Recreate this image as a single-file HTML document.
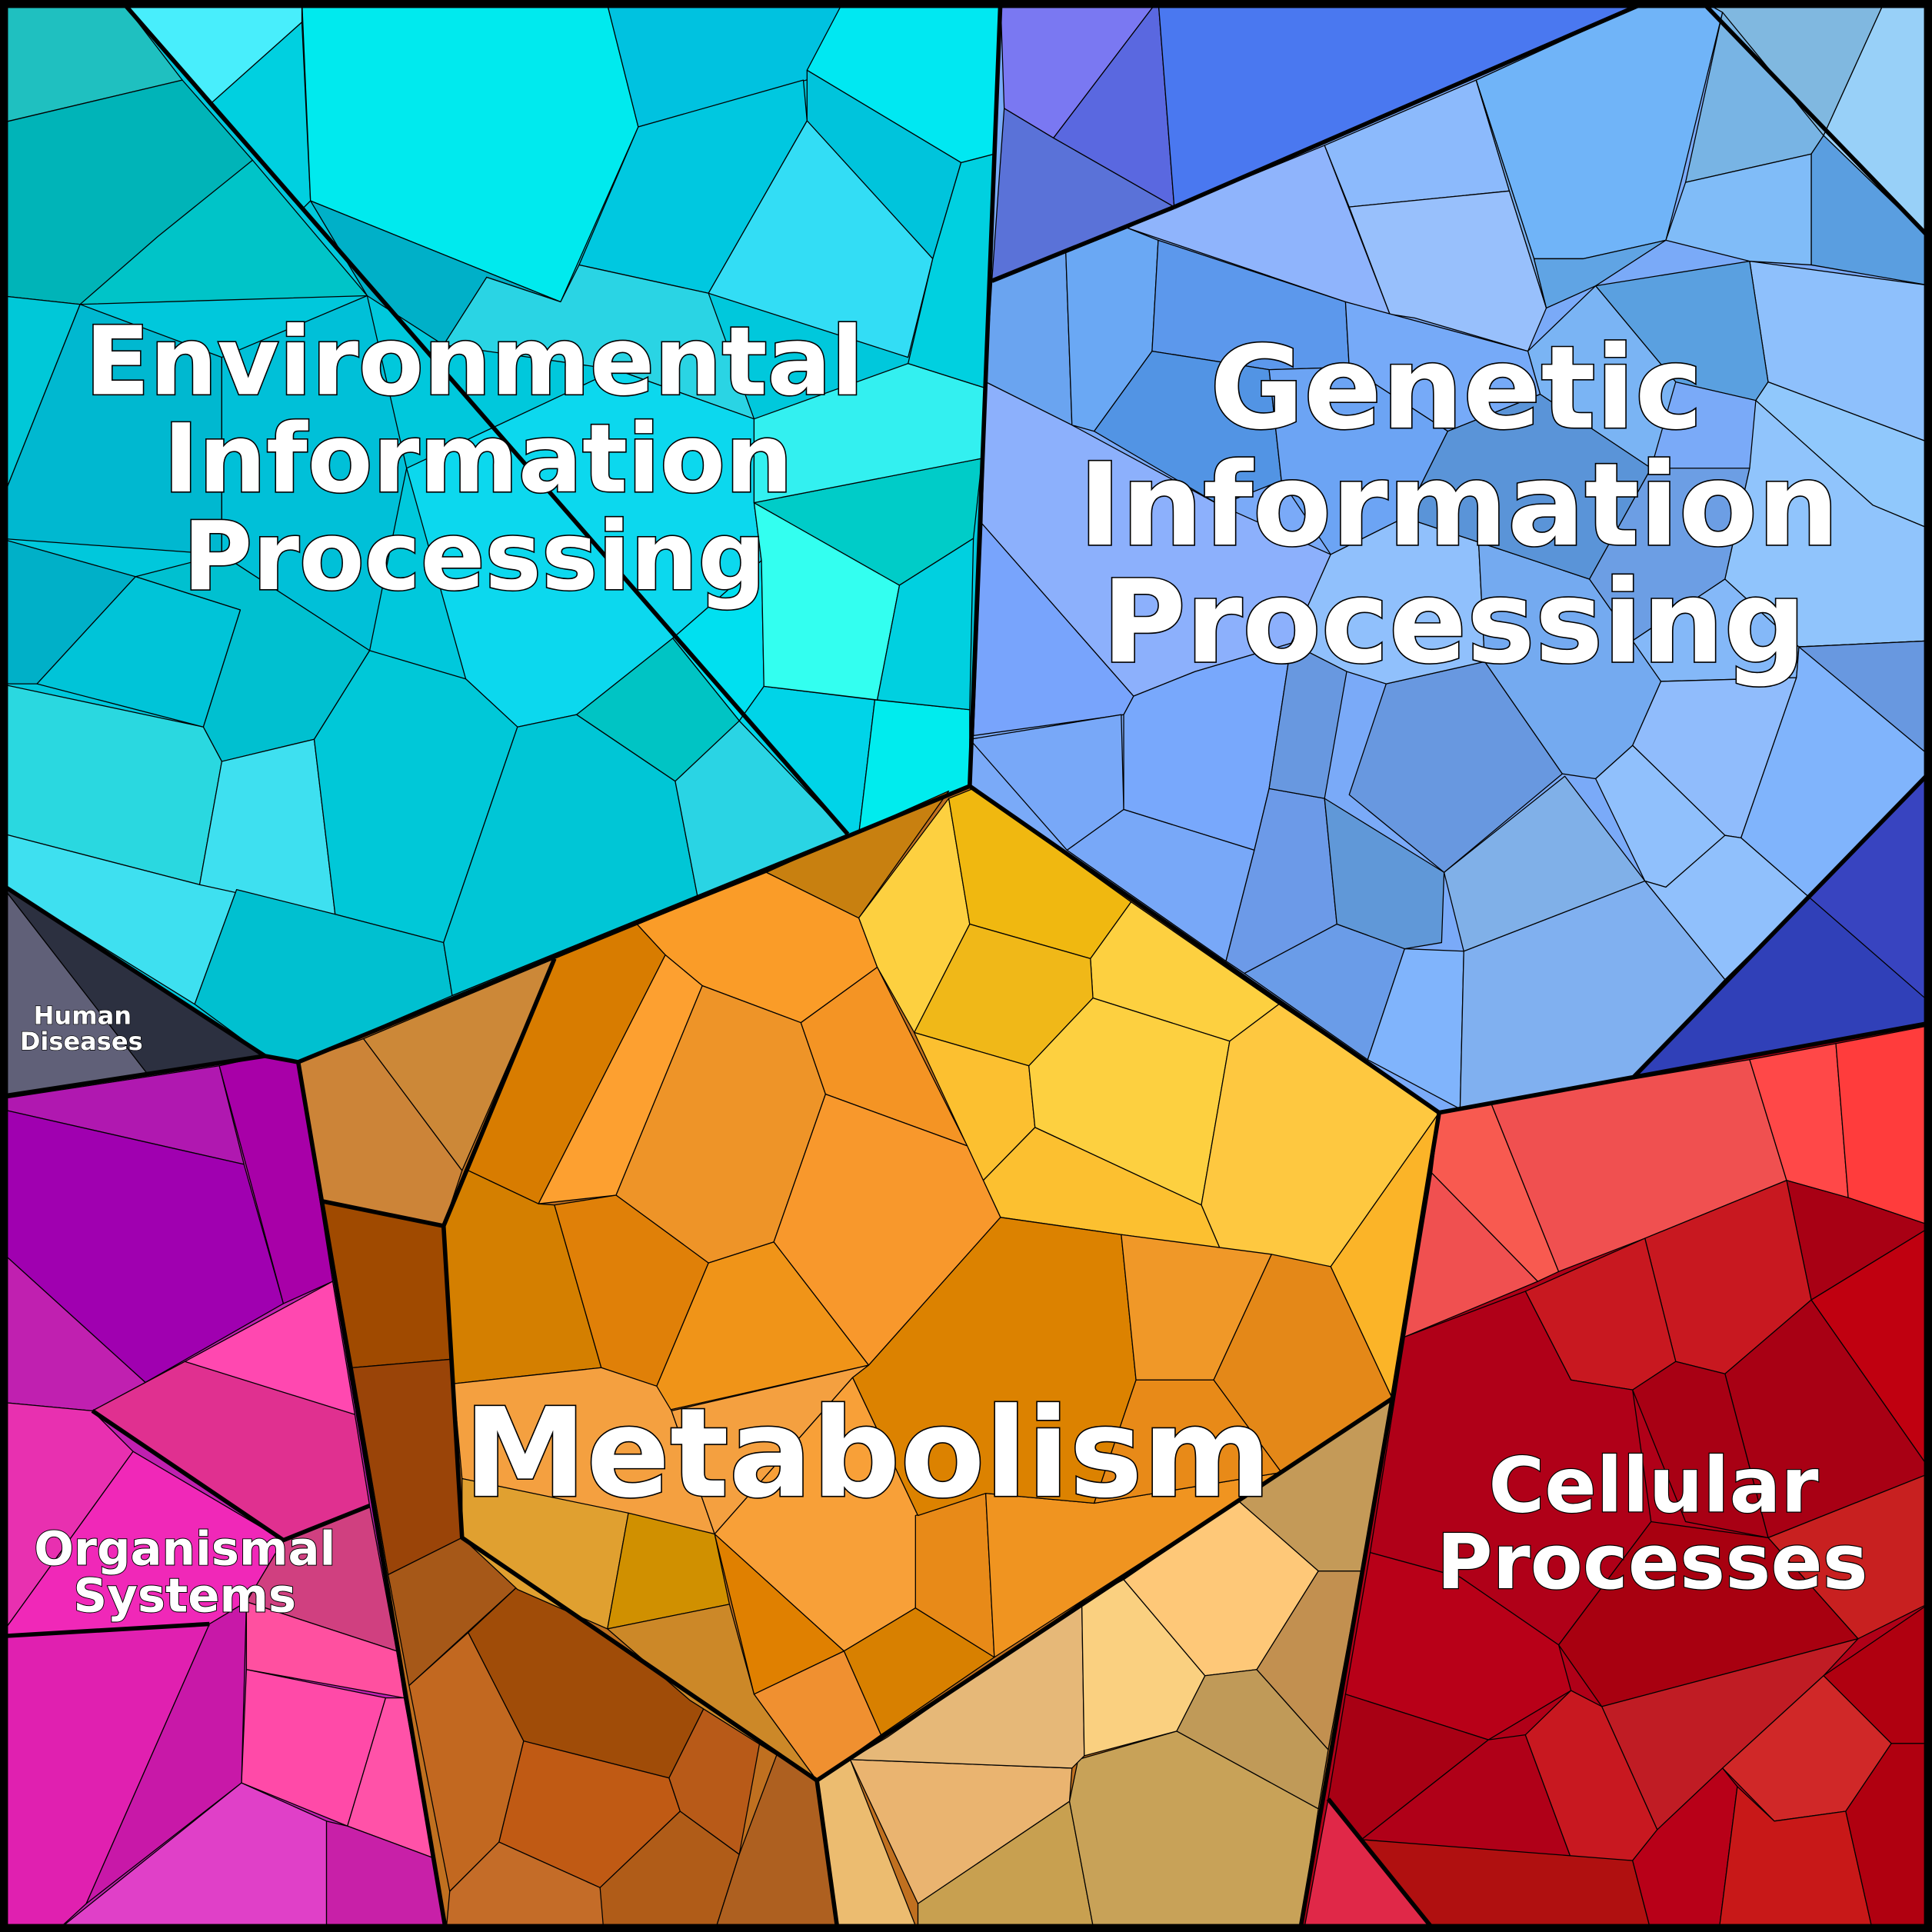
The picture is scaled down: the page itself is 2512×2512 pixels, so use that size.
<!DOCTYPE html>
<html><head><meta charset="utf-8"><style>
html,body{margin:0;padding:0;background:#000;}
svg{display:block;}
.c polygon{stroke:#000;stroke-width:0.8;stroke-linejoin:round;}
.t{font-family:"DejaVu Sans","Liberation Sans",sans-serif;font-weight:bold;fill:#fff;stroke:#000;paint-order:stroke;text-anchor:middle;}
</style></head><body>
<svg width="2512" height="2512" viewBox="0 0 1568 1568" xmlns="http://www.w3.org/2000/svg">
<polygon points="0,0 812,0 787,638 242,862 215,857 0,717" fill="#00c8dc"/>
<polygon points="812,0 1568,0 1568,830 1325,875 1168,903 787,638" fill="#7aaaf8"/>
<polygon points="242,862 787,638 1168,903 1130,1135 1055,1568 362,1568" fill="#c07020"/>
<polygon points="1168,903 1568,830 1568,1568 1055,1568 1130,1135" fill="#b00018"/>
<polygon points="0,892 215,857 242,862 362,1568 0,1568" fill="#c020b0"/>
<g class="c">
<polygon points="0,0 98,0 148,65 0,100" fill="#1fc0c0"/>
<polygon points="0,100 148,65 205,130 65,247 0,240" fill="#00b4b8"/>
<polygon points="98,0 245,0 245,18 170,85" fill="#48eefc"/>
<polygon points="170,85 245,18 252,163 245,170" fill="#00d0e0"/>
<polygon points="245,0 492,0 518,103 455,245 252,163" fill="#00eaee"/>
<polygon points="492,0 685,0 683,57 518,103" fill="#00c2e0"/>
<polygon points="685,0 812,0 807,125 780,132 655,57" fill="#00e8f2"/>
<polygon points="655,57 780,132 757,210 655,98" fill="#00c4dc"/>
<polygon points="518,103 652,65 655,98 575,238 470,215" fill="#00c8e0"/>
<polygon points="655,98 757,210 737,290 575,238" fill="#33ddf5"/>
<polygon points="252,163 455,245 395,225 360,280 298,240" fill="#00b0c8"/>
<polygon points="360,280 395,225 455,245 470,215 575,238 612,340 500,300" fill="#2ad4e4"/>
<polygon points="65,247 128,192 205,130 298,240" fill="#00c4c8"/>
<polygon points="0,240 65,247 0,410" fill="#00c8d8"/>
<polygon points="0,410 65,247 180,290 180,450 0,437" fill="#00b8d0"/>
<polygon points="180,290 298,240 330,380 300,528 180,450" fill="#00c0d8"/>
<polygon points="330,380 500,300 612,340 612,408 618,455 546,518 468,580 420,590 378,551" fill="#0cd8ee"/>
<polygon points="546,518 618,455 620,557 600,585" fill="#00e0f0"/>
<polygon points="0,437 110,468 30,555 0,555" fill="#00b0c8"/>
<polygon points="110,468 180,450 300,528 255,600 180,618 165,590 195,495" fill="#00c0d0"/>
<polygon points="30,555 110,468 195,495 165,590" fill="#00c4d8"/>
<polygon points="0,555 165,590 180,618 162,718 0,676" fill="#2ad8e0"/>
<polygon points="0,676 162,718 192,722 158,815 0,717" fill="#3ee0f0"/>
<polygon points="180,618 255,600 272,742 162,718" fill="#3ee0f0"/>
<polygon points="255,600 300,528 378,551 420,590 360,765 272,742" fill="#00c8d8"/>
<polygon points="192,722 272,742 360,765 367,808 242,862 215,857 158,815" fill="#00c0d0"/>
<polygon points="360,765 420,590 468,580 548,634 566,727 367,808" fill="#00c6d6"/>
<polygon points="367,808 566,727 548,634 600,585 688,677" fill="#2ad4e4"/>
<polygon points="468,580 546,518 600,585 548,634" fill="#00c4c4"/>
<polygon points="600,585 620,557 710,568 697,677 688,677" fill="#00d4e8"/>
<polygon points="710,568 787,576 787,638 697,677" fill="#00ecee"/>
<polygon points="612,408 730,475 712,568 620,557 618,455" fill="#33fff0"/>
<polygon points="612,408 797,372 790,437 730,475" fill="#00ccc8"/>
<polygon points="730,475 790,437 787,576 712,568" fill="#00d0e0"/>
<polygon points="612,340 737,295 800,315 797,372 612,408" fill="#33f0f0"/>
<polygon points="737,295 757,210 780,132 807,125 800,315" fill="#00d0e0"/>
<polygon points="812,0 940,0 855,112 815,88" fill="#7a78f2"/>
<polygon points="940,0 953,168 855,112" fill="#5a68e0"/>
<polygon points="815,88 855,112 953,168 805,228" fill="#5a72d8"/>
<polygon points="940,0 1340,0 953,168" fill="#4a78f0"/>
<polygon points="1380,0 1530,0 1480,110" fill="#80b8e0"/>
<polygon points="1530,0 1568,0 1568,195 1480,110" fill="#98d0f8"/>
<polygon points="1198,65 1340,0 1380,0 1398,10 1365,145 1352,195 1285,210 1245,210" fill="#70b4f8"/>
<polygon points="953,168 1075,118 1128,255 1092,245 915,185" fill="#8fb4fc"/>
<polygon points="1075,118 1198,65 1225,155 1095,168" fill="#8cbafc"/>
<polygon points="1095,168 1225,155 1255,250 1240,285 1148,258 1128,255" fill="#98c0fc"/>
<polygon points="1198,65 1245,210 1255,250 1225,155" fill="#78b0f0"/>
<polygon points="1245,210 1285,210 1352,195 1295,232 1255,250" fill="#60a4e4"/>
<polygon points="1398,10 1480,110 1470,125 1368,148" fill="#78b4e4"/>
<polygon points="1480,110 1568,195 1568,232 1470,215 1470,125" fill="#5a9ee0"/>
<polygon points="1352,195 1368,148 1470,125 1470,215 1420,212" fill="#80bcf8"/>
<polygon points="1420,212 1568,232 1568,360 1435,310" fill="#8ec0fc"/>
<polygon points="1295,232 1420,212 1435,310 1425,325 1360,310" fill="#5aa0e0"/>
<polygon points="1425,325 1435,310 1568,360 1568,430 1520,410" fill="#90c8fc"/>
<polygon points="1240,285 1295,232 1360,310 1340,380 1250,320" fill="#7ab4f4"/>
<polygon points="805,228 865,205 870,345 800,310" fill="#6aa4f0"/>
<polygon points="865,205 915,185 940,195 935,285 888,350 870,345" fill="#6aa8f4"/>
<polygon points="940,195 1092,245 1095,298 1030,300 935,285" fill="#5c98ec"/>
<polygon points="888,350 935,285 1030,300 1040,390 990,410" fill="#5294e4"/>
<polygon points="1092,245 1240,285 1250,320 1175,350 1095,298" fill="#76aaf8"/>
<polygon points="800,310 870,345 990,410 1080,450 1048,522 970,545 920,565 797,425" fill="#8cb0fc"/>
<polygon points="1030,300 1095,298 1175,350 1140,420 1080,450 1040,390" fill="#6ca4f4"/>
<polygon points="797,425 920,565 912,580 790,597" fill="#78a4fc"/>
<polygon points="787,600 910,580 912,657 866,690" fill="#78a8f8"/>
<polygon points="912,580 920,565 970,545 1048,522 1030,640 1018,690 912,657" fill="#78a8fc"/>
<polygon points="866,690 912,657 1018,690 995,780" fill="#78a8f8"/>
<polygon points="1018,690 1030,640 1075,648 1085,750 1010,790 995,780" fill="#6c9ae8"/>
<polygon points="1010,790 1085,750 1140,770 1110,860" fill="#6a9ce8"/>
<polygon points="1110,860 1140,770 1188,772 1185,900" fill="#80b4fc"/>
<polygon points="1188,772 1335,715 1400,795 1325,875 1185,900" fill="#80b0f0"/>
<polygon points="1172,708 1270,630 1335,715 1188,772" fill="#80b0e8"/>
<polygon points="1075,648 1172,708 1170,765 1140,770 1085,750" fill="#6098d8"/>
<polygon points="1095,645 1125,555 1205,537 1268,628 1172,708" fill="#6898e0"/>
<polygon points="1030,640 1048,522 1093,545 1075,648" fill="#6898e0"/>
<polygon points="1080,450 1140,420 1200,440 1205,537 1125,555 1093,545 1048,522" fill="#90c0fc"/>
<polygon points="1205,537 1200,440 1290,470 1325,520 1348,553 1325,605 1295,632 1268,628" fill="#74aaf0"/>
<polygon points="1140,420 1175,350 1250,320 1340,380 1290,470 1200,440" fill="#5a94d8"/>
<polygon points="1290,470 1340,380 1420,380 1400,470 1325,520" fill="#6c9ee4"/>
<polygon points="1325,520 1400,470 1460,525 1458,550 1348,553" fill="#84b8f8"/>
<polygon points="1420,380 1425,325 1520,410 1568,430 1568,520 1460,525 1400,470" fill="#90c4fc"/>
<polygon points="1325,605 1348,553 1458,550 1413,680 1400,678" fill="#90bcfc"/>
<polygon points="1295,632 1325,605 1400,678 1352,720 1335,715" fill="#90c0fc"/>
<polygon points="1413,680 1458,550 1460,525 1568,520 1568,625 1468,728" fill="#80b4fc"/>
<polygon points="1460,525 1568,520 1568,615" fill="#6898e0"/>
<polygon points="1352,720 1400,678 1413,680 1468,728 1400,795 1335,715" fill="#90c0fc"/>
<polygon points="1568,625 1568,830 1325,875 1468,728" fill="#3040b8"/>
<polygon points="1468,728 1568,625 1568,815" fill="#3844c0"/>
<polygon points="242,862 295,843 375,950 360,995 262,975" fill="#cc8438"/>
<polygon points="295,843 450,778 375,950" fill="#cc8838"/>
<polygon points="262,975 360,995 368,1103 286,1110" fill="#a04a00"/>
<polygon points="286,1110 368,1103 375,1248 315,1278" fill="#9a4408"/>
<polygon points="315,1278 375,1248 425,1283 332,1368" fill="#a65818"/>
<polygon points="332,1368 380,1325 425,1413 405,1495 365,1535" fill="#c26820"/>
<polygon points="380,1325 425,1283 572,1385 543,1443 425,1413" fill="#a04c08"/>
<polygon points="425,1413 543,1443 552,1470 487,1532 405,1495" fill="#c05a14"/>
<polygon points="365,1535 405,1495 487,1532 495,1568 362,1568" fill="#c46c28"/>
<polygon points="487,1532 552,1470 600,1505 580,1568 490,1568" fill="#b05c18"/>
<polygon points="543,1443 572,1385 617,1412 600,1505 552,1470" fill="#b85a18"/>
<polygon points="600,1505 632,1420 663,1445 680,1568 580,1568" fill="#ae6020"/>
<polygon points="663,1445 690,1428 745,1568 680,1568" fill="#ecbc70"/>
<polygon points="690,1428 870,1435 868,1462 745,1545" fill="#eab470"/>
<polygon points="745,1545 868,1462 888,1568 745,1568" fill="#c8a050"/>
<polygon points="868,1462 875,1428 955,1405 1070,1468 1055,1568 888,1568" fill="#c8a258"/>
<polygon points="690,1428 720,1410 878,1300 880,1425 870,1435" fill="#e6b878"/>
<polygon points="878,1300 912,1282 978,1360 955,1405 880,1425" fill="#fad080"/>
<polygon points="912,1282 1005,1218 1070,1275 1020,1355 978,1360" fill="#fec878"/>
<polygon points="955,1405 978,1360 1020,1355 1078,1420 1070,1468" fill="#c09a58"/>
<polygon points="1020,1355 1070,1275 1105,1275 1078,1420" fill="#c29050"/>
<polygon points="1005,1218 1040,1195 1130,1135 1105,1275 1070,1275" fill="#c49a58"/>
<polygon points="450,778 517,750 540,775 437,977 380,950" fill="#d87c00"/>
<polygon points="517,750 622,708 697,745 712,785 650,830 570,800 540,775" fill="#fa9c28"/>
<polygon points="622,708 770,642 697,745" fill="#c88010"/>
<polygon points="697,745 770,648 787,750 742,838 712,785" fill="#fdd040"/>
<polygon points="770,648 790,640 918,732 885,778 787,750" fill="#f0b810"/>
<polygon points="918,732 1038,815 998,845 887,810 885,778" fill="#fdd040"/>
<polygon points="742,838 787,750 885,778 887,810 835,865" fill="#f0b818"/>
<polygon points="742,838 835,865 840,915 798,958" fill="#fcc030"/>
<polygon points="835,865 887,810 998,845 975,978 840,915" fill="#fdd040"/>
<polygon points="998,845 1038,815 1168,903 1080,1028 990,1013 975,978" fill="#fec840"/>
<polygon points="1080,1028 1168,903 1130,1135" fill="#fbb428"/>
<polygon points="798,958 840,915 975,978 990,1013 910,1002 812,988" fill="#fcc030"/>
<polygon points="540,775 570,800 500,970 437,977" fill="#fda030"/>
<polygon points="570,800 650,830 670,888 628,1008 575,1025 500,970" fill="#ee9428"/>
<polygon points="650,830 712,785 785,930 670,888" fill="#f49424"/>
<polygon points="670,888 785,930 812,988 705,1108 628,1008" fill="#f8982c"/>
<polygon points="360,995 380,950 437,977 450,978 488,1110 368,1123" fill="#d47f00"/>
<polygon points="450,978 500,970 575,1025 533,1125 488,1110" fill="#e08008"/>
<polygon points="533,1125 575,1025 628,1008 705,1108 540,1145" fill="#f09418"/>
<polygon points="368,1123 488,1110 533,1125 545,1145 580,1245 375,1200" fill="#f4a040"/>
<polygon points="375,1200 510,1228 493,1322 420,1290 375,1248" fill="#e0a030"/>
<polygon points="510,1228 580,1245 592,1302 493,1322" fill="#d09000"/>
<polygon points="493,1322 592,1302 612,1375 663,1445 560,1380" fill="#cc8828"/>
<polygon points="545,1145 705,1108 692,1118 580,1245" fill="#f4a040"/>
<polygon points="580,1245 692,1118 745,1230 743,1305 685,1340" fill="#f8a038"/>
<polygon points="580,1245 685,1340 612,1375" fill="#e08000"/>
<polygon points="612,1375 685,1340 715,1408 663,1445" fill="#f09030"/>
<polygon points="685,1340 743,1305 807,1345 715,1408" fill="#d88000"/>
<polygon points="743,1230 800,1212 807,1345 743,1305" fill="#e88a18"/>
<polygon points="800,1212 888,1220 1040,1195 807,1345" fill="#f09420"/>
<polygon points="705,1108 812,988 910,1002 922,1120 888,1220 800,1212 745,1230 692,1118" fill="#dc8200"/>
<polygon points="910,1002 1032,1018 985,1120 922,1120" fill="#f09828"/>
<polygon points="1032,1018 1080,1028 1130,1135 1040,1195 985,1120" fill="#e48818"/>
<polygon points="922,1120 985,1120 1040,1195 888,1220" fill="#e88a18"/>
<polygon points="1168,903 1210,895 1265,1032 1248,1040 1162,952" fill="#f85a50"/>
<polygon points="1162,952 1248,1040 1140,1085" fill="#f05050"/>
<polygon points="1210,895 1420,860 1450,958 1335,1005 1265,1032" fill="#f05050"/>
<polygon points="1420,860 1490,847 1500,972 1450,958" fill="#ff4848"/>
<polygon points="1490,847 1568,832 1568,995 1500,972" fill="#ff3c3c"/>
<polygon points="1450,958 1500,972 1568,995 1470,1055" fill="#a80014"/>
<polygon points="1335,1005 1450,958 1470,1055 1400,1115 1360,1105" fill="#c81820"/>
<polygon points="1238,1048 1335,1005 1360,1105 1325,1128 1275,1120" fill="#c81820"/>
<polygon points="1470,1055 1568,995 1568,1195" fill="#c00010"/>
<polygon points="1400,1115 1470,1055 1568,1195 1435,1248" fill="#a80014"/>
<polygon points="1325,1128 1360,1105 1400,1115 1435,1248 1368,1235" fill="#a80014"/>
<polygon points="1140,1085 1238,1048 1275,1120 1325,1128 1340,1235 1265,1335 1185,1280 1112,1260" fill="#b00018"/>
<polygon points="1435,1248 1568,1195 1568,1300 1508,1330" fill="#c82020"/>
<polygon points="1265,1335 1340,1235 1435,1248 1508,1330 1300,1385" fill="#a80010"/>
<polygon points="1112,1260 1185,1280 1265,1335 1275,1372 1208,1412 1092,1375" fill="#b80018"/>
<polygon points="1300,1385 1508,1330 1480,1360 1398,1435 1345,1485" fill="#c01c24"/>
<polygon points="1480,1360 1568,1300 1568,1415 1535,1415" fill="#b00010"/>
<polygon points="1398,1435 1480,1360 1535,1415 1498,1470 1440,1478" fill="#d02828"/>
<polygon points="1092,1375 1208,1412 1105,1493 1078,1460" fill="#a80014"/>
<polygon points="1208,1412 1238,1408 1275,1508 1105,1493" fill="#b00018"/>
<polygon points="1238,1408 1275,1372 1300,1385 1345,1485 1325,1510 1275,1508" fill="#c81820"/>
<polygon points="1078,1460 1105,1493 1165,1568 1058,1568" fill="#e02848"/>
<polygon points="1105,1493 1325,1510 1340,1568 1165,1568" fill="#b01010"/>
<polygon points="1325,1510 1345,1485 1398,1435 1410,1450 1395,1568 1340,1568" fill="#b80018"/>
<polygon points="1410,1450 1440,1478 1498,1470 1520,1568 1395,1568" fill="#c81818"/>
<polygon points="1498,1470 1535,1415 1568,1415 1568,1568 1520,1568" fill="#b00010"/>
<polygon points="0,892 178,865 198,945 0,900" fill="#b018b0"/>
<polygon points="0,900 198,945 230,1058 118,1122 0,1015" fill="#a000b0"/>
<polygon points="178,865 215,857 242,862 270,1040 230,1058" fill="#a800a8"/>
<polygon points="0,1015 118,1122 75,1145 0,1138" fill="#c020b0"/>
<polygon points="118,1122 150,1105 270,1040 288,1148" fill="#ff48b0"/>
<polygon points="75,1145 150,1105 288,1148 300,1222 230,1250" fill="#e03090"/>
<polygon points="0,1138 75,1145 108,1178 0,1328" fill="#e830b0"/>
<polygon points="108,1178 230,1250 200,1300 170,1318 0,1328" fill="#f028b8"/>
<polygon points="230,1250 300,1222 322,1340 200,1300" fill="#d04080"/>
<polygon points="200,1300 322,1340 328,1378 200,1355" fill="#ff50a0"/>
<polygon points="200,1355 313,1378 282,1482 196,1447" fill="#ff4aa8"/>
<polygon points="313,1378 328,1378 352,1508 282,1482" fill="#ff52a8"/>
<polygon points="0,1328 170,1318 70,1545 45,1568 0,1568" fill="#e020b0"/>
<polygon points="170,1318 200,1300 196,1447 70,1545" fill="#c818a8"/>
<polygon points="45,1568 196,1447 265,1478 265,1568" fill="#e040c8"/>
<polygon points="265,1478 282,1482 352,1508 362,1568 265,1568" fill="#c820a8"/>
<polygon points="0,717 120,872 0,890" fill="#606078"/>
<polygon points="0,717 215,857 120,872" fill="#2c3040"/>
</g>
<g fill="none" stroke="#000" stroke-width="3.5" stroke-linejoin="round">
<polyline points="98,0 688,677"/>
<polyline points="812,0 787,638 242,862 215,857 0,717"/>
<polyline points="0,890 215,857"/>
<polyline points="787,638 1168,903 1568,830"/>
<polyline points="1168,903 1130,1135 1055,1568"/>
<polyline points="242,862 362,1568"/>
<polyline points="953,168 1340,0"/>
<polyline points="805,228 953,168"/>
<polyline points="1380,0 1568,195"/>
<polyline points="1325,875 1568,625"/>
<polyline points="450,778 360,995 375,1248 663,1445 1130,1135"/>
<polyline points="663,1445 680,1568"/>
<polyline points="262,975 360,995"/>
<polyline points="1078,1460 1165,1568"/>
<polyline points="75,1145 230,1250 300,1222"/>
<polyline points="0,1328 170,1318"/>
</g>
<rect x="3" y="3" width="1562" height="1562" fill="none" stroke="#000" stroke-width="7"/>
<g class="t" font-size="77" stroke-width="2">
<text x="385" y="320">Environmental</text>
<text x="388" y="399">Information</text>
<text x="385" y="478">Processing</text>
</g>
<g class="t" font-size="93" stroke-width="2">
<text x="1182" y="347">Genetic</text>
<text x="1184" y="442">Information</text>
<text x="1180" y="537">Processing</text>
</g>
<text class="t" x="704" y="1214" font-size="100" stroke-width="2">Metabolism</text>
<g class="t" font-size="62" stroke-width="1.5">
<text x="1342" y="1227">Cellular</text>
<text x="1341" y="1289">Processes</text>
</g>
<g class="t" font-size="38" stroke-width="1.2">
<text x="150" y="1270">Organismal</text>
<text x="150" y="1308">Systems</text>
</g>
<g class="t" font-size="20" stroke-width="0.8">
<text x="67" y="831">Human</text>
<text x="66" y="852">Diseases</text>
</g>
</svg>
</body></html>
